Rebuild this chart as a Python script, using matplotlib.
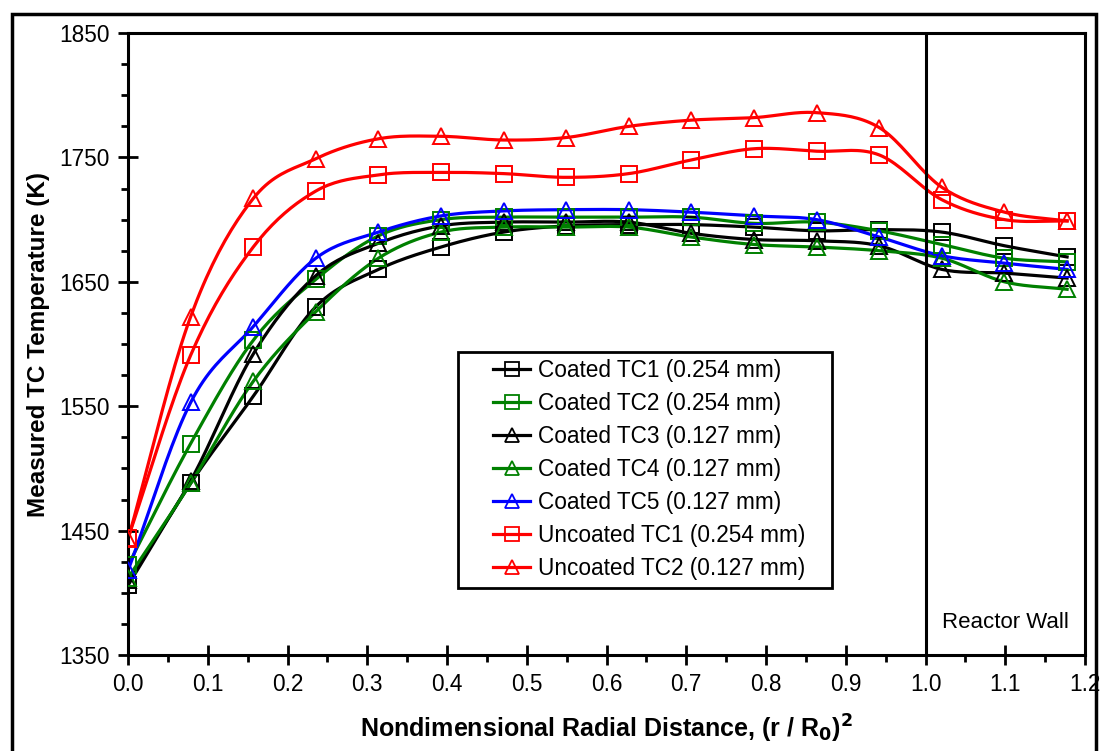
import matplotlib
matplotlib.use('Agg')
import matplotlib.pyplot as plt
from matplotlib.patches import Rectangle
from matplotlib.ticker import MultipleLocator, FormatStrFormatter
import numpy as np

plt.rcParams['font.family'] = ['Liberation Sans', 'DejaVu Sans']

# radial position (r/R0)^2
x = [0.0, 0.0785, 0.157, 0.2355, 0.314, 0.3925, 0.471, 0.5495,
     0.628, 0.7065, 0.785, 0.8635, 0.942, 1.0205, 1.099, 1.1775]

coated_tc1 = [1406, 1488, 1558, 1630, 1660, 1678, 1690, 1695, 1696, 1696, 1694, 1691, 1692, 1690, 1679, 1670]
coated_tc2 = [1422, 1520, 1603, 1652, 1687, 1700, 1702, 1702, 1702, 1702, 1697, 1698, 1691, 1680, 1669, 1666]
coated_tc3 = [1410, 1490, 1592, 1655, 1681, 1695, 1698, 1698, 1698, 1689, 1684, 1683, 1679, 1660, 1657, 1653]
coated_tc4 = [1412, 1488, 1570, 1626, 1669, 1690, 1694, 1694, 1694, 1686, 1680, 1678, 1675, 1669, 1650, 1644]
coated_tc5 = [1418, 1553, 1614, 1669, 1690, 1703, 1707, 1708, 1708, 1706, 1703, 1700, 1686, 1671, 1665, 1660]
uncoated_tc1 = [1444, 1591, 1678, 1723, 1736, 1738, 1737, 1734, 1737, 1748, 1757, 1755, 1752, 1716, 1700, 1699]
uncoated_tc2 = [1443, 1622, 1717, 1749, 1765, 1767, 1764, 1766, 1775, 1780, 1782, 1786, 1774, 1726, 1706, 1699]

y_ticks = [1350, 1450, 1550, 1650, 1750, 1850]

series = [
    ('Coated TC1 (0.254 mm)', coated_tc1, 'black', 's'),
    ('Coated TC2 (0.254 mm)', coated_tc2, '#008000', 's'),
    ('Coated TC3 (0.127 mm)', coated_tc3, 'black', '^'),
    ('Coated TC4 (0.127 mm)', coated_tc4, '#008000', '^'),
    ('Coated TC5 (0.127 mm)', coated_tc5, '#0000ff', '^'),
    ('Uncoated TC1 (0.254 mm)', uncoated_tc1, '#ff0000', 's'),
    ('Uncoated TC2 (0.127 mm)', uncoated_tc2, '#ff0000', '^'),
]


def smooth(xs, ys, n=20):
    # catmull-rom like the spreadsheet "smoothed line"
    xs = np.asarray(xs, float)
    ys = np.asarray(ys, float)
    px = np.concatenate([[2*xs[0]-xs[1]], xs, [2*xs[-1]-xs[-2]]])
    py = np.concatenate([[2*ys[0]-ys[1]], ys, [2*ys[-1]-ys[-2]]])
    ox, oy = [], []
    t = np.linspace(0, 1, n, endpoint=False)
    for i in range(1, len(px)-2):
        for p, o in ((px, ox), (py, oy)):
            p0, p1, p2, p3 = p[i-1], p[i], p[i+1], p[i+2]
            o.extend(0.5*((2*p1) + (-p0+p2)*t + (2*p0-5*p1+4*p2-p3)*t**2
                          + (-p0+3*p1-3*p2+p3)*t**3))
    ox.append(xs[-1])
    oy.append(ys[-1])
    return ox, oy


fig = plt.figure(figsize=(11.01, 7.51), dpi=100)
ax = fig.add_axes([0.1163, 0.1278, 0.8692, 0.8282])

for label, ys, col, mk in series:
    sx, sy = smooth(x, ys)
    ax.plot(sx, sy, color=col, lw=2.3, zorder=2)
    ax.plot(x, ys, ls='none', marker=mk, ms=12, mfc='none', mec=col, mew=1.4, zorder=3)
    ax.plot([], [], color=col, lw=2.3, marker=mk, ms=9.5, mfc='none', mec=col, mew=1.3, label=label)

ax.axvline(1.0, color='black', lw=2.2)
ax.text(1.1, 1376, 'Reactor Wall', ha='center', va='center', fontsize=16)

ax.set_xlim(0, 1.2)
ax.set_ylim(1350, 1850)
ax.xaxis.set_major_locator(MultipleLocator(0.1))
ax.xaxis.set_minor_locator(MultipleLocator(0.05))
ax.xaxis.set_major_formatter(FormatStrFormatter('%.1f'))
ax.set_yticks(y_ticks)
ax.yaxis.set_minor_locator(MultipleLocator(25))
ax.tick_params(which='major', direction='inout', length=14, width=2, labelsize=16.3, pad=6)
ax.tick_params(which='minor', direction='out', length=5, width=2)
for s in ax.spines.values():
    s.set_linewidth(2.2)

ax.set_xlabel(r'Nondimensional Radial Distance, (r / R$_\mathbf{0}$)$^\mathbf{2}$',
              fontsize=18, fontweight='bold', labelpad=12)
ax.set_ylabel('Measured TC Temperature (K)', fontsize=17.5, fontweight='bold', labelpad=6.5)

# legend box drawn separately so the padding matches
ax.add_patch(Rectangle((0.345, 0.1077), 0.3905, 0.3794, transform=ax.transAxes,
                       fill=True, facecolor='white', edgecolor='black', lw=2, zorder=4))
leg = ax.legend(loc='upper left', bbox_to_anchor=(0.3814, 0.476), fontsize=16.3,
                frameon=False, handlelength=1.65, handletextpad=0.35, labelspacing=0.44,
                borderpad=0, borderaxespad=0)
leg.set_zorder(5)

fig.patches.append(Rectangle((0.0105, -0.02), 0.985, 0.9814 + 0.02, transform=fig.transFigure,
                             fill=False, edgecolor='black', lw=2.5))

fig.savefig('out.png', dpi=100)
